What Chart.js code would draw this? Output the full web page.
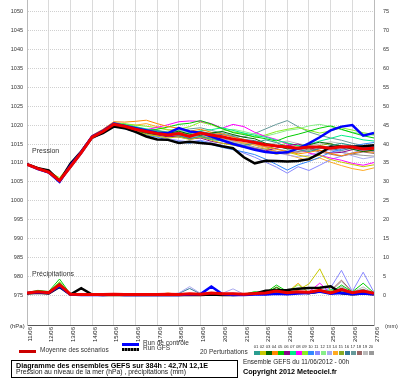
<!DOCTYPE html>
<html><head><meta charset="utf-8">
<script src="https://cdn.jsdelivr.net/npm/chart.js@4.4.1/dist/chart.umd.min.js"></script>
<style>
html,body{margin:0;padding:0;background:#fff;}
#wrap{position:relative;width:400px;height:378px;overflow:hidden;font-family:"Liberation Sans",Arial,sans-serif;color:#000;background:#fff;}
#c{position:absolute;left:0;top:0;}
.t{position:absolute;white-space:nowrap;line-height:1;}
.sw{position:absolute;}
</style></head><body>
<div id="wrap">
<canvas id="c" width="400" height="378"></canvas>
<div class="t" style="left:32px;top:147px;font-size:7px;color:#333">Pression</div>
<div class="t" style="left:32px;top:270px;font-size:7px;color:#333">Précipitations</div>
<div class="t" style="left:10px;top:323px;font-size:6px;color:#333">(hPa)</div>
<div class="t" style="left:385px;top:323.5px;font-size:5.5px;color:#333">(mm)</div>

<div class="sw" style="left:19px;top:350px;width:17px;height:3px;background:#cc0000"></div>
<div class="t" style="left:40px;top:347px;font-size:6.5px;color:#333">Moyenne des scénarios</div>
<div class="sw" style="left:122px;top:342.5px;width:17px;height:3px;background:#0000ff"></div>
<div class="t" style="left:143px;top:340px;font-size:6.5px;color:#333">Run de controle</div>
<div class="sw" style="left:122px;top:348px;width:17px;height:3px;background:repeating-linear-gradient(90deg,#000 0 2px,#777 2px 3px)"></div>
<div class="t" style="left:143px;top:345px;font-size:6.5px;color:#333">Run GFS</div>
<div class="t" style="left:200px;top:348.5px;font-size:6.5px;color:#333">20 Perturbations</div>
<div id="sq"></div>

<div class="sw" style="left:11px;top:360px;width:225px;height:16px;border:1px solid #000;"></div>
<div class="t" style="left:16px;top:361.5px;font-size:7.2px;font-weight:bold">Diagramme des ensembles GEFS sur 384h : 42,7N 12,1E</div>
<div class="t" style="left:16px;top:369px;font-size:6.8px;color:#222">Pression au niveau de la mer (hPa) , précipitations (mm)</div>
<div class="t" style="left:243px;top:358.5px;font-size:6.4px;color:#222">Ensemble GEFS du 11/06/2012 - 00h</div>
<div class="t" style="left:243px;top:367.5px;font-size:7.2px;font-weight:bold">Copyright 2012 Meteociel.fr</div>
</div>
<script>
// ---- axes / categories ----
const hours = [0,12,24,36,48,60,72,84,96,108,120,132,144,156,168,180,192,204,216,228,240,252,264,276,288,300,312,324,336,348,360,372,384];
const dayLabels = ['11/06','12/06','13/06','14/06','15/06','16/06','17/06','18/06','19/06','20/06','21/06','22/06','23/06','24/06','25/06','26/06','27/06'];
const dayHours = [0,24,48,72,96,120,144,168,192,216,240,264,288,312,336,360,384];
const pressTicks = [975,980,985,990,995,1000,1005,1010,1015,1020,1025,1030,1035,1040,1045,1050];
const precTicks = [0,5,10,15,20,25,30,35,40,45,50,55,60,65,70,75];
const pertNames = ['01','02','03','04','05','06','07','08','09','10','11','12','13','14','15','16','17','18','19','20'];

// ---- pressure (hPa) ----
const meanPress = [1009.6,1008.5,1007.6,1005.3,1009.0,1012.7,1016.8,1018.3,1020.2,1019.7,1018.9,1018.3,1017.8,1017.4,1017.8,1017.0,1017.9,1017.4,1016.9,1016.3,1015.9,1015.4,1014.8,1014.5,1014.2,1013.9,1014.2,1014.2,1013.9,1014.3,1014.2,1013.7,1013.9];
const ctrlPress = [1009.6,1008.4,1007.5,1005.0,1009.3,1012.9,1017.0,1018.5,1020.4,1019.8,1019.2,1018.6,1018.0,1017.9,1019.2,1018.3,1018.0,1017.0,1016.0,1015.0,1014.3,1013.5,1012.9,1012.6,1012.8,1013.8,1015.2,1016.8,1018.6,1019.6,1020.0,1017.2,1017.9];
const gfsPress  = [1009.7,1008.6,1008.0,1005.2,1009.8,1013.0,1016.8,1017.9,1019.6,1019.2,1018.2,1017.0,1016.2,1016.1,1015.3,1015.6,1015.3,1015.0,1014.4,1013.9,1011.5,1009.9,1010.6,1010.5,1010.4,1010.5,1011.0,1012.5,1014.3,1014.2,1014.3,1014.4,1014.7];
const press01 = [1009.5,1008.3,1007.4,1005.0,1008.8,1012.9,1017.0,1018.6,1020.6,1020.0,1019.4,1018.8,1018.6,1018.0,1017.2,1016.5,1017.0,1016.2,1015.8,1015.0,1014.6,1015.3,1016.1,1015.4,1014.2,1013.5,1013.0,1013.8,1014.6,1015.2,1014.6,1014.0,1013.6];
const press02 = [1009.7,1008.6,1007.8,1005.6,1009.2,1012.5,1016.4,1018.0,1019.8,1019.5,1018.4,1017.5,1017.1,1016.6,1016.9,1016.2,1016.8,1016.0,1015.2,1014.7,1014.1,1013.6,1013.0,1012.3,1012.9,1012.1,1011.5,1012.0,1010.9,1010.2,1009.6,1009.0,1009.5];
const press03 = [1009.6,1008.7,1007.6,1005.4,1009.1,1012.6,1016.7,1018.2,1020.1,1019.3,1018.2,1017.9,1017.5,1017.8,1018.4,1017.6,1017.3,1017.9,1018.3,1017.5,1016.8,1016.4,1015.2,1014.6,1013.7,1013.9,1014.8,1015.5,1015.0,1014.5,1013.6,1013.0,1013.4];
const press04 = [1009.8,1008.8,1008.0,1005.7,1009.5,1013.2,1017.3,1018.9,1020.9,1020.8,1021.0,1021.3,1020.4,1019.6,1019.2,1018.4,1018.9,1018.1,1017.7,1016.8,1016.2,1015.1,1014.3,1013.6,1013.0,1012.4,1012.8,1013.4,1012.5,1011.9,1012.6,1013.1,1012.8];
const press05 = [1009.5,1008.4,1007.5,1005.3,1009.1,1012.8,1016.9,1018.4,1020.3,1020.0,1019.2,1018.6,1018.9,1019.5,1020.2,1020.5,1021.2,1020.3,1019.1,1018.0,1017.5,1016.9,1016.4,1015.8,1016.9,1017.6,1018.4,1019.2,1019.8,1018.9,1018.0,1017.2,1016.6];
const press06 = [1009.6,1008.5,1007.3,1005.1,1008.7,1012.4,1016.5,1017.9,1019.8,1019.2,1018.6,1018.1,1017.4,1016.9,1017.1,1016.3,1016.6,1015.7,1015.2,1014.9,1014.3,1013.8,1013.2,1013.9,1014.6,1015.0,1014.1,1013.3,1012.6,1012.8,1013.5,1014.0,1014.3];
const press07 = [1009.7,1008.6,1007.7,1005.5,1009.3,1012.9,1017.1,1018.7,1020.4,1020.2,1019.6,1019.0,1018.3,1018.0,1017.6,1017.9,1018.5,1018.8,1019.3,1018.6,1017.9,1017.3,1016.8,1016.0,1015.3,1014.6,1014.9,1015.8,1016.5,1017.3,1016.8,1016.1,1015.8];
const press08 = [1009.6,1008.5,1007.5,1005.2,1008.9,1012.6,1016.7,1018.2,1020.0,1019.6,1019.0,1018.8,1019.4,1020.1,1020.9,1021.1,1021.0,1020.4,1019.2,1020.2,1019.6,1018.1,1017.0,1016.2,1015.0,1013.8,1012.6,1012.0,1011.3,1010.7,1009.9,1009.4,1010.1];
const press09 = [1009.5,1008.6,1007.8,1006.1,1009.6,1013.1,1017.2,1018.5,1020.5,1020.4,1020.0,1019.7,1019.3,1018.7,1018.9,1019.6,1020.8,1020.1,1019.0,1018.2,1017.8,1016.8,1017.4,1018.3,1018.9,1019.4,1018.6,1017.9,1018.5,1019.3,1018.7,1018.0,1017.5];
const press10 = [1009.7,1008.4,1007.4,1005.0,1008.6,1012.3,1016.4,1018.0,1019.9,1019.1,1018.1,1017.4,1016.8,1016.0,1015.6,1015.2,1015.8,1014.9,1014.1,1013.5,1012.9,1012.2,1011.0,1009.6,1008.1,1009.5,1010.4,1011.5,1012.8,1013.6,1014.4,1015.0,1015.4];
const press11 = [1009.6,1008.3,1007.2,1004.8,1008.5,1012.2,1016.3,1017.8,1019.7,1019.0,1018.3,1017.6,1017.0,1016.4,1015.9,1015.6,1016.0,1015.3,1014.6,1013.8,1012.6,1011.5,1010.2,1008.9,1007.3,1009.0,1008.0,1009.4,1010.9,1011.8,1012.7,1013.4,1013.0];
const press12 = [1009.5,1008.5,1007.6,1005.4,1009.0,1012.7,1016.9,1018.3,1020.1,1019.8,1019.3,1019.0,1018.6,1018.2,1018.5,1018.0,1017.7,1017.9,1018.4,1018.9,1018.3,1017.6,1017.1,1017.8,1018.6,1019.0,1019.8,1020.2,1019.6,1018.8,1018.1,1017.7,1017.3];
const press13 = [1009.6,1008.6,1007.7,1005.3,1008.9,1012.5,1016.6,1018.1,1020.0,1019.5,1018.7,1018.0,1017.6,1017.3,1017.0,1016.7,1017.4,1016.9,1016.2,1015.6,1014.8,1014.1,1013.4,1012.7,1012.1,1011.6,1012.0,1012.9,1013.5,1012.8,1011.9,1011.1,1011.6];
const press14 = [1009.7,1008.7,1007.9,1005.6,1009.4,1013.0,1017.0,1018.5,1020.3,1020.2,1020.0,1020.4,1019.6,1018.8,1018.2,1017.6,1017.9,1017.1,1016.3,1015.7,1015.3,1014.7,1013.8,1013.0,1012.2,1011.4,1010.5,1011.3,1010.2,1009.3,1008.5,1008.0,1008.7];
const press15 = [1009.6,1008.4,1007.5,1005.2,1008.9,1012.6,1016.7,1018.2,1020.1,1019.4,1018.5,1017.7,1017.2,1017.0,1017.5,1016.9,1017.2,1016.6,1016.0,1015.4,1015.0,1014.2,1013.6,1014.5,1015.2,1014.4,1013.7,1014.6,1015.1,1014.3,1013.8,1014.5,1014.0];
const press16 = [1009.5,1008.5,1007.6,1005.4,1009.0,1012.7,1016.8,1018.3,1020.2,1019.9,1019.2,1018.5,1018.0,1017.8,1018.1,1017.7,1018.3,1017.8,1017.5,1017.0,1016.2,1015.9,1015.0,1014.3,1013.8,1013.5,1013.9,1014.4,1013.8,1013.3,1013.9,1013.5,1013.2];
const press17 = [1009.6,1008.6,1007.7,1005.5,1009.2,1012.9,1017.0,1018.5,1020.7,1020.3,1019.5,1018.9,1018.4,1018.1,1018.6,1019.0,1019.3,1018.6,1017.9,1017.2,1016.9,1017.8,1019.0,1020.2,1021.2,1019.6,1018.2,1017.3,1016.6,1016.0,1015.2,1014.6,1014.1];
const press18 = [1009.6,1008.5,1007.6,1005.3,1009.0,1012.8,1016.8,1018.2,1020.0,1019.6,1018.8,1018.2,1017.6,1017.2,1016.8,1016.4,1016.9,1016.5,1015.9,1015.3,1014.7,1014.0,1013.6,1013.1,1012.5,1013.0,1013.7,1012.9,1012.3,1011.8,1012.4,1012.9,1012.5];
const press19 = [1009.7,1008.6,1007.7,1005.5,1009.1,1012.8,1016.9,1018.4,1020.4,1020.1,1019.4,1018.8,1018.2,1017.8,1017.9,1017.5,1017.8,1017.2,1016.7,1016.1,1015.8,1015.2,1014.9,1015.3,1015.8,1015.1,1014.6,1015.0,1015.6,1015.1,1014.5,1014.0,1014.4];
const press20 = [1009.5,1008.4,1007.5,1005.2,1008.8,1012.5,1016.6,1018.1,1019.9,1019.5,1018.9,1018.3,1017.9,1017.5,1017.3,1016.8,1017.5,1017.0,1016.4,1015.8,1015.3,1014.8,1014.2,1013.7,1013.2,1012.8,1013.3,1013.9,1013.4,1012.9,1012.3,1012.0,1011.8];

// ---- precipitation (mm) ----
const meanPrec = [0.6,0.9,0.7,2.8,0.3,0.2,0.2,0.2,0.3,0.2,0.2,0.2,0.2,0.3,0.2,0.4,0.3,0.6,0.4,0.4,0.3,0.5,0.6,1.1,0.7,0.9,0.8,1.3,0.6,1.5,0.7,1.1,0.5];
const ctrlPrec = [0.6,0.8,0.6,2.4,0.2,0.1,0.1,0.1,0.2,0.1,0.1,0.1,0.1,0.1,0.1,0.2,0.3,2.3,0.3,0.1,0.1,0.2,0.2,0.4,0.3,0.5,0.6,1.0,0.4,0.6,0.3,0.5,0.3];
const gfsPrec  = [0.5,0.7,0.5,2.2,0.2,1.9,0.2,0.1,0.1,0.1,0.1,0.1,0.1,0.1,0.1,0.1,0.1,0.2,0.1,0.1,0.2,0.4,1.2,1.3,1.4,1.7,1.9,2.0,2.4,0.5,0.3,0.5,0.3];
const prec01 = [0.6,0.9,0.8,2.6,0.3,0.2,0.1,0.1,0.2,0.1,0.1,0.2,0.1,0.2,0.1,0.3,0.2,0.4,0.2,0.3,0.2,0.5,0.4,1.2,0.6,0.8,0.5,1.0,0.4,1.3,0.5,1.0,0.4];
const prec02 = [0.5,0.8,0.7,2.3,0.2,0.1,0.1,0.1,0.1,0.1,0.1,0.1,0.1,0.2,0.1,0.2,0.1,0.2,0.1,0.2,0.1,0.3,0.5,0.8,0.6,1.4,3.0,7.0,1.2,0.5,0.3,0.6,0.2];
const prec03 = [0.7,1.0,0.8,3.1,0.3,0.2,0.1,0.1,0.2,0.1,0.1,0.1,0.2,0.1,0.1,0.2,0.1,0.3,0.2,0.1,0.2,0.4,0.6,2.0,0.8,0.6,0.4,0.9,0.5,1.8,0.6,1.2,0.3];
const prec04 = [0.6,0.9,0.8,2.9,0.3,0.2,0.1,0.1,0.1,0.1,0.1,0.1,0.2,0.6,0.2,0.2,0.1,0.3,0.1,0.2,0.1,0.2,0.3,0.5,0.4,0.6,0.5,1.2,0.3,0.8,0.4,0.7,0.3];
const prec05 = [0.7,1.3,1.0,4.3,0.3,0.2,0.1,0.1,0.2,0.1,0.1,0.1,0.1,0.2,0.1,0.3,0.2,0.5,0.3,0.4,0.3,0.9,0.7,2.7,1.0,0.8,0.6,1.1,0.7,2.7,0.9,3.2,0.6];
const prec06 = [0.5,0.8,0.6,2.5,0.2,0.1,0.1,0.1,0.1,0.1,0.1,0.1,0.1,0.1,0.1,0.2,0.1,0.3,0.2,0.2,0.1,0.3,0.4,0.7,0.5,0.6,0.4,0.8,1.0,0.6,0.3,0.5,0.2];
const prec07 = [0.6,1.0,0.9,3.3,0.3,0.2,0.1,0.1,0.2,0.1,0.1,0.1,0.1,0.2,0.1,0.2,0.2,0.4,0.3,0.3,0.2,0.5,0.8,1.6,0.7,0.9,0.5,0.9,1.5,1.1,0.5,0.8,0.4];
const prec08 = [0.6,0.9,0.7,2.7,0.2,0.1,0.1,0.1,0.1,0.1,0.1,0.1,0.1,0.1,0.1,0.2,0.1,0.3,0.2,0.2,0.1,0.3,0.4,0.6,0.5,0.8,0.9,3.2,0.6,0.9,0.4,0.7,0.3];
const prec09 = [0.7,1.1,0.9,3.6,0.3,0.2,0.1,0.1,0.2,0.1,0.1,0.1,0.1,0.2,0.1,0.3,0.2,0.4,0.2,0.3,0.2,0.6,0.5,1.4,0.9,2.8,0.7,1.0,0.6,1.4,0.6,1.1,0.4];
const prec10 = [0.6,0.9,0.8,2.6,0.2,0.1,0.1,0.1,0.1,0.1,0.1,0.1,0.1,0.1,0.1,0.3,0.2,0.3,0.2,0.3,0.2,0.4,0.3,0.7,0.5,0.6,0.5,0.8,0.6,1.5,0.5,0.9,0.3];
const prec11 = [0.5,0.8,0.7,2.4,0.2,0.1,0.1,0.1,0.1,0.1,0.1,0.1,0.1,0.1,0.1,0.2,0.2,0.3,0.4,0.6,0.3,0.4,0.3,0.6,0.4,0.7,0.5,0.9,2.0,6.6,1.0,6.1,0.8];
const prec12 = [0.6,1.0,0.8,3.0,0.3,0.2,0.1,0.1,0.2,0.1,0.1,0.1,0.1,0.1,0.1,0.2,0.2,0.3,0.2,0.3,0.2,1.0,0.4,1.3,0.6,0.7,0.5,0.8,0.5,1.2,0.5,1.0,0.3];
const prec13 = [0.6,0.9,0.7,2.8,0.2,0.1,0.1,0.1,0.1,0.1,0.1,0.1,0.1,0.2,0.6,2.3,0.5,0.4,0.5,1.7,0.3,0.3,0.3,0.5,0.4,0.6,0.4,0.7,0.5,1.0,0.4,1.2,0.3];
const prec14 = [0.5,0.8,0.6,2.5,0.2,0.1,0.1,0.1,0.1,0.1,0.1,0.1,0.1,0.4,0.2,0.2,0.1,0.2,0.1,0.2,0.1,0.3,0.4,0.9,0.8,3.2,0.6,1.5,0.4,0.8,0.3,0.6,0.2];
const prec15 = [0.7,1.1,0.9,3.4,0.3,0.2,0.1,0.1,0.2,0.1,0.1,0.1,0.1,0.2,0.1,0.2,0.2,0.4,0.3,0.3,0.2,0.6,0.5,2.2,0.7,0.9,0.6,1.0,0.5,1.7,0.6,1.4,0.4];
const prec16 = [0.6,1.0,0.8,3.2,0.3,0.2,0.1,0.1,0.1,0.1,0.1,0.1,0.2,0.3,0.5,1.8,0.4,0.3,0.2,0.3,0.2,0.4,0.3,0.8,0.5,0.7,0.4,0.9,0.6,1.6,0.7,1.3,0.4];
const prec17 = [0.6,0.9,0.8,2.9,0.3,0.2,0.1,0.1,0.2,0.1,0.1,0.1,0.1,0.2,0.1,0.3,0.2,0.4,0.2,0.3,0.2,0.5,0.4,1.0,0.6,0.8,0.5,1.1,0.7,1.9,0.8,1.6,0.5];
const prec18 = [0.5,0.8,0.7,2.6,0.2,0.1,0.1,0.1,0.1,0.1,0.1,0.1,0.1,0.1,0.1,0.2,0.1,0.3,0.2,0.2,0.1,0.3,0.3,0.6,0.5,0.7,0.6,1.0,1.2,4.0,0.9,1.5,0.4];
const prec19 = [0.6,1.0,0.9,3.5,0.3,0.2,0.1,0.1,0.2,0.1,0.1,0.1,0.1,0.2,0.1,0.3,0.2,0.4,0.3,0.3,0.2,0.5,0.4,1.1,0.7,1.0,0.6,1.4,1.0,3.6,0.8,2.2,0.5];
const prec20 = [0.6,0.9,0.8,3.0,0.2,0.1,0.1,0.1,0.1,0.1,0.1,0.1,0.1,0.1,0.1,0.2,0.2,0.3,0.2,0.2,0.2,0.4,0.3,0.7,0.5,0.6,0.5,0.9,0.8,2.3,0.6,1.2,0.4];

// ---- styles (kept apart from data) ----
const pertColors = ['#2a9d8f','#c8c800','#006600','#ff8800','#00cc00','#880088','#00ee88','#ff00ff','#88ee22','#3388ff','#8888ff','#88ee88','#aaaaee','#ffaa22','#88aa22','#337799','#669999','#996666','#bbbbbb','#999999'];
const pertPress = [press01,press02,press03,press04,press05,press06,press07,press08,press09,press10,press11,press12,press13,press14,press15,press16,press17,press18,press19,press20];
const pertPrec = [prec01,prec02,prec03,prec04,prec05,prec06,prec07,prec08,prec09,prec10,prec11,prec12,prec13,prec14,prec15,prec16,prec17,prec18,prec19,prec20];

// legend squares
const sq = document.getElementById('sq');
pertNames.forEach((n, i) => {
  const x = 254 + i * 6.05;
  const b = document.createElement('div');
  b.className = 'sw';
  b.style.cssText = `left:${x}px;top:351px;width:5.5px;height:4px;background:${pertColors[i]}`;
  sq.appendChild(b);
  const t = document.createElement('div');
  t.className = 't';
  t.style.cssText = `left:${x - 0.3}px;top:345px;font-size:4.3px;color:#333;letter-spacing:-0.2px`;
  t.textContent = n;
  sq.appendChild(t);
});

const xy = arr => arr.map((v, i) => ({x: hours[i], y: v}));
function line(arr, color, width, axis) {
  return {data: xy(arr), borderColor: color, backgroundColor: color, borderWidth: width,
          pointRadius: 0, tension: 0, fill: false, yAxisID: axis};
}
const datasets = [
  line(meanPress, '#ee0000', 3, 'y'),
  line(ctrlPress, '#0000ff', 2.5, 'y'),
  line(gfsPress, '#000000', 2.5, 'y'),
  line(meanPrec, '#ee0000', 3, 'y2'),
  line(ctrlPrec, '#0000ff', 2.5, 'y2'),
  line(gfsPrec, '#000000', 2.5, 'y2'),
];
pertPress.forEach((a, i) => datasets.push(line(a, pertColors[i], 1, 'y')));
pertPrec.forEach((a, i) => datasets.push(line(a, pertColors[i], 1, 'y2')));

const yMin = 967.14, yMax = 1053.09, base = 975;
const tickFont = {family: 'Liberation Sans', size: 5.5};

new Chart(document.getElementById('c'), {
  type: 'line',
  data: {datasets},
  options: {
    responsive: false, animation: false, devicePixelRatio: 1, events: [],
    layout: {padding: 0},
    plugins: {legend: {display: false}, tooltip: {enabled: false}},
    scales: {
      x: {
        type: 'linear', position: 'bottom', min: 0, max: 384,
        afterBuildTicks: s => { s.ticks = dayHours.map(v => ({value: v})); },
        ticks: {autoSkip: false, minRotation: 90, maxRotation: 90, padding: 2, labelOffset: 3,
                font: {family: 'Liberation Sans', size: 6}, color: '#222',
                callback: (v, i) => dayLabels[i]},
        grid: {color: '#dadada', lineWidth: 1, drawTicks: false},
        border: {display: true, color: '#555', width: 1},
        afterFit: s => { s.height = 53; s.paddingLeft = 0; s.paddingRight = 0; }
      },
      y: {
        position: 'left', min: yMin, max: yMax,
        afterBuildTicks: s => { s.ticks = pressTicks.map(v => ({value: v})); },
        ticks: {padding: 4, font: tickFont, color: '#333', callback: v => String(v)},
        grid: {color: '#d0d0d0', lineWidth: 1, drawTicks: false},
        border: {display: true, color: '#bbbbbb', dash: [1, 1]},
        afterFit: s => { s.width = 27; s.paddingTop = 0; s.paddingBottom = 0; }
      },
      y2: {
        position: 'right', min: yMin - base, max: yMax - base,
        afterBuildTicks: s => { s.ticks = precTicks.map(v => ({value: v})); },
        ticks: {padding: 9, font: tickFont, color: '#333', callback: v => String(v)},
        grid: {drawOnChartArea: false, drawTicks: false},
        border: {display: true, color: '#bbbbbb'},
        afterFit: s => { s.width = 26; s.paddingTop = 0; s.paddingBottom = 0; }
      }
    }
  }
});
</script>
</body></html>
